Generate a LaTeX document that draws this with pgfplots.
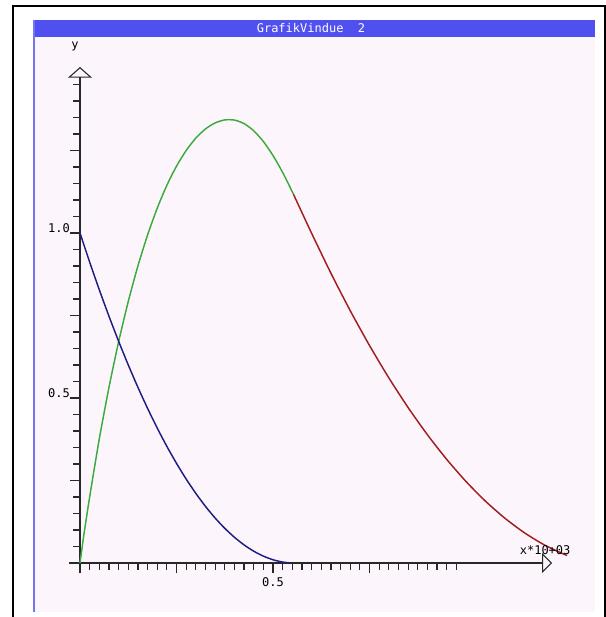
\documentclass[border=0pt]{standalone}
\usepackage{fontspec}
\setmonofont{DejaVu Sans Mono}
\usepackage{pgfplots}
\pgfplotsset{compat=1.18}
\usetikzlibrary{arrows.meta}
\definecolor{winpink}{RGB}{252,246,252}
\definecolor{titleblue}{RGB}{80,80,240}
\definecolor{curveblue}{RGB}{30,30,130}
\definecolor{curvegreen}{RGB}{60,170,60}
\definecolor{curvered}{RGB}{160,30,30}
\definecolor{axisgray}{RGB}{40,40,40}
\begin{document}
\begin{tikzpicture}
\begin{scope}[x=0.75pt,y=-0.75pt]
\useasboundingbox (0,0) rectangle (606,617);
\fill[white] (0,0) rectangle (606,617);
\fill[winpink] (33,37) rectangle (595,612);
\fill[titleblue] (33,20) rectangle (595,37);
\draw[titleblue!80!white, line width=1.5pt] (33.5,20) -- (33.5,612);
\draw[black, line width=1.5pt] (13,617) -- (13,6) -- (605,6) -- (605,617);
\node[text=white, font=\ttfamily\fontsize{9}{9}\selectfont] at (311,28.5) {GrafikVindue\ \ 2};
\end{scope}
\begin{axis}[
  at={(60pt,-422.25pt)}, anchor=origin,
  x=289.5pt, y=247.5pt,
  xmin=-0.028, xmax=1.223, ymin=-0.03, ymax=1.503,
  clip=false,
  axis x line=middle, axis y line=middle,
  hide obscured x ticks=false, hide obscured y ticks=false,
  x axis line style={axisgray, line width=1pt, -{Triangle[open, width=15pt, length=7.5pt, line width=0.8pt]}},
  y axis line style={axisgray, line width=1pt, -{Triangle[open, width=18pt, length=8pt, line width=0.8pt]}},
  tick align=outside,
  major tick length=7.5pt, minor tick length=4.9pt,
  tick style={axisgray, line width=0.9pt},
  xtick={0,0.25,0.5,0.75}, xticklabels={,,0.5,},
  minor xtick={0.025,0.05,0.075,0.1,0.125,0.15,0.175,0.2,0.225,0.275,0.3,0.325,0.35,0.375,0.4,0.425,0.45,0.475,0.525,0.55,0.575,0.6,0.625,0.65,0.675,0.7,0.725,0.775,0.8,0.825,0.85,0.875,0.9,0.925,0.95,0.975},
  ytick={0,0.25,0.5,0.75,1,1.25}, yticklabels={,,0.5,,1.0,},
  minor ytick={0.05,0.1,0.15,0.2,0.3,0.35,0.4,0.45,0.55,0.6,0.65,0.7,0.8,0.85,0.9,0.95,1.05,1.1,1.15,1.2,1.3,1.35,1.4,1.45},
  tick label style={font=\ttfamily\fontsize{9}{9}\selectfont, text=black},
  xticklabel style={anchor=north},
  yticklabel style={anchor=south east, inner sep=0pt},
  xlabel={x*10+03}, ylabel={y},
  every axis x label/.style={at={(axis description cs:0.9856,0.045)}, anchor=center, font=\ttfamily\fontsize{9}{9}\selectfont},
  every axis y label/.style={at={(axis description cs:0.012,1.04)}, anchor=center, font=\ttfamily\fontsize{9}{9}\selectfont},
]
\addplot[curvegreen, line width=1.1pt, smooth, tension=0.4] coordinates {
(0,0) (0.01,0.085) (0.025,0.2) (0.05,0.3763) (0.075,0.5319) (0.1,0.67) (0.125,0.7925) (0.15,0.9) (0.175,0.9938) (0.2,1.075) (0.225,1.1444) (0.25,1.2025) (0.275,1.25) (0.3,1.2875) (0.325,1.3153) (0.35,1.3336) (0.375,1.3426) (0.4,1.3423) (0.425,1.3316) (0.45,1.3098) (0.475,1.2773) (0.5,1.2348) (0.525,1.1835) (0.55,1.1248) (0.553,1.1173)
};
\addplot[curvered, line width=1.1pt, smooth, tension=0.4] coordinates {
(0.553,1.1173) (0.575,1.062) (0.6,0.9993) (0.65,0.8782) (0.7,0.7648) (0.75,0.6591) (0.8,0.5612) (0.85,0.4711) (0.9,0.3887) (0.95,0.314) (1.0,0.247) (1.05,0.1878) (1.1,0.1364) (1.15,0.0927) (1.2,0.0567) (1.25,0.0285) (1.262,0.0229)
};
\addplot[curveblue, line width=1.1pt, smooth, tension=0.4] coordinates {
(0,1) (0.025,0.9119) (0.05,0.8279) (0.075,0.748) (0.1,0.6721) (0.125,0.6003) (0.15,0.5325) (0.175,0.4688) (0.2,0.4091) (0.225,0.3535) (0.25,0.302) (0.275,0.2545) (0.3,0.2111) (0.325,0.1717) (0.35,0.1364) (0.375,0.1052) (0.4,0.078) (0.425,0.0549) (0.45,0.0358) (0.475,0.0208) (0.5,0.0098) (0.525,0.0029) (0.545,0.0003)
};
\end{axis}
\end{tikzpicture}
\end{document}
